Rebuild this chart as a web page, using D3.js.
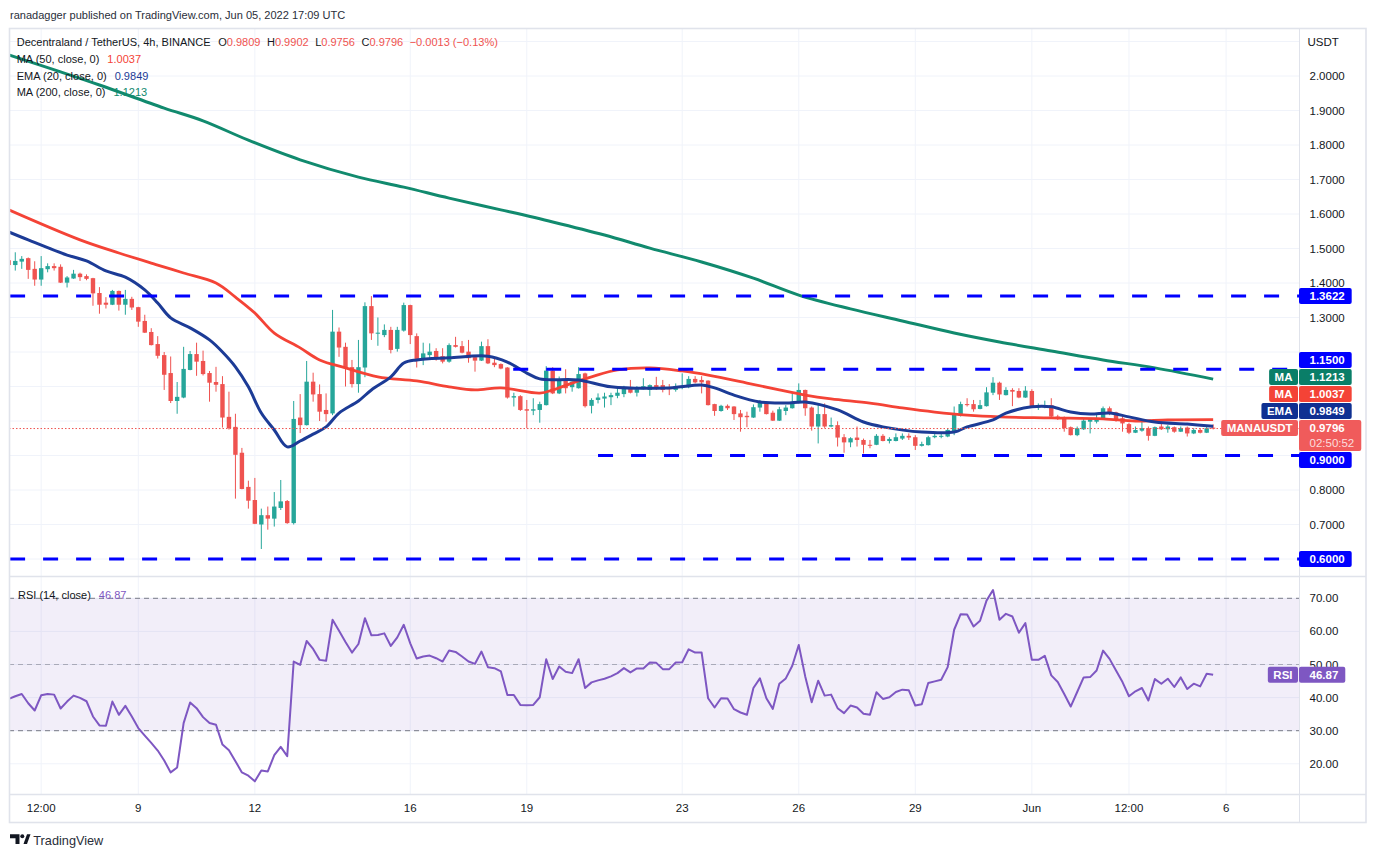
<!DOCTYPE html>
<html><head><meta charset="utf-8">
<script src="https://cdn.jsdelivr.net/npm/d3@7"></script>
<style>
html,body{margin:0;padding:0;background:#fff;}
svg{display:block;font-family:"Liberation Sans",Arial,sans-serif;}
</style></head><body>
<svg id="c" width="1377" height="857"></svg>
<script>
// ---------------- DATA ----------------
const firstCandle = "2022-05-05T16:00:00Z";   // 4h candles
const open = [1.466,1.452,1.462,1.472,1.441,1.410,1.440,1.449,1.447,1.401,
1.413,1.427,1.420,1.414,1.371,1.343,1.337,1.377,1.337,1.354,
1.330,1.290,1.258,1.223,1.191,1.139,1.058,1.068,1.148,1.194,
1.174,1.139,1.113,1.107,1.012,0.983,0.908,0.809,0.771,0.700,
0.727,0.717,0.748,0.768,0.704,1.010,0.988,1.114,1.078,1.032,
1.022,1.259,1.215,1.156,1.107,1.155,1.333,1.253,1.249,1.264,
1.209,1.262,1.336,1.246,1.177,1.191,1.203,1.188,1.172,1.220,
1.217,1.201,1.185,1.175,1.217,1.169,1.165,1.155,1.068,1.072,
1.034,1.030,1.032,1.046,1.146,1.080,1.121,1.098,1.095,1.138,
1.044,1.061,1.065,1.069,1.073,1.078,1.097,1.082,1.092,1.090,
1.104,1.104,1.097,1.090,1.097,1.098,1.122,1.119,1.117,1.049,
1.029,1.044,1.042,1.022,1.015,1.010,1.039,1.053,1.024,1.001,
1.029,1.037,1.053,1.090,1.039,0.984,1.020,0.984,0.988,0.953,
0.938,0.952,0.945,0.931,0.931,0.957,0.942,0.942,0.949,0.957,
0.953,0.928,0.930,0.953,0.955,0.955,0.966,1.015,1.049,1.049,
1.035,1.043,1.082,1.111,1.075,1.090,1.087,1.068,1.087,1.040,
1.040,1.046,1.013,1.008,0.982,0.959,0.976,0.998,0.998,1.005,
1.037,1.025,1.008,0.991,0.966,0.972,0.979,0.957,0.984,0.976,
0.982,0.969,0.981,0.964,0.974,0.966,0.9809];
const high = [1.475,1.489,1.478,1.474,1.463,1.478,1.457,1.457,1.454,1.420,
1.438,1.430,1.425,1.415,1.388,1.359,1.380,1.378,1.380,1.360,
1.331,1.308,1.269,1.246,1.200,1.187,1.113,1.215,1.203,1.227,
1.204,1.145,1.157,1.130,1.085,1.021,0.922,0.827,0.835,0.746,
0.752,0.794,0.829,0.771,1.058,1.078,1.174,1.140,1.106,1.080,
1.322,1.271,1.227,1.177,1.235,1.344,1.362,1.300,1.280,1.273,
1.273,1.343,1.337,1.254,1.227,1.225,1.211,1.211,1.225,1.244,
1.232,1.235,1.191,1.230,1.237,1.182,1.167,1.156,1.082,1.075,
1.061,1.066,1.056,1.159,1.156,1.129,1.150,1.115,1.156,1.140,
1.066,1.080,1.082,1.082,1.095,1.102,1.119,1.101,1.124,1.106,
1.128,1.119,1.107,1.109,1.138,1.130,1.130,1.130,1.118,1.050,
1.047,1.048,1.043,1.032,1.027,1.048,1.061,1.056,1.030,1.041,
1.046,1.082,1.109,1.091,1.042,1.051,1.051,1.010,0.999,0.962,
0.953,0.984,0.949,0.945,0.962,0.962,0.953,0.964,0.964,0.964,
0.959,0.940,0.957,0.964,0.964,0.979,1.042,1.056,1.066,1.061,
1.061,1.098,1.127,1.114,1.098,1.095,1.095,1.101,1.092,1.051,
1.059,1.066,1.018,1.013,0.984,0.984,1.008,1.008,1.018,1.042,
1.042,1.027,1.013,0.995,0.984,0.998,0.984,0.984,0.993,0.988,
0.984,0.984,0.984,0.979,0.979,0.984,0.9902];
const low = [1.445,1.436,1.441,1.412,1.392,1.392,1.431,1.436,1.400,1.387,
1.412,1.406,1.408,1.334,1.311,1.326,1.336,1.320,1.308,1.322,
1.273,1.255,1.219,1.181,1.090,1.052,1.021,1.066,1.147,1.131,
1.132,1.056,1.085,0.981,0.975,0.775,0.802,0.746,0.701,0.629,
0.685,0.694,0.742,0.702,0.700,0.965,0.987,1.056,1.000,0.998,
1.017,1.186,1.100,1.097,1.082,1.127,1.235,1.218,1.243,1.196,
1.201,1.259,1.223,1.155,1.162,1.177,1.175,1.167,1.169,1.213,
1.196,1.169,1.143,1.174,1.165,1.156,1.150,1.065,1.042,1.029,
0.979,1.017,0.995,1.045,1.078,1.078,1.080,1.085,1.094,1.039,
1.022,1.051,1.039,1.046,1.066,1.069,1.080,1.071,1.091,1.073,
1.090,1.083,1.075,1.085,1.092,1.095,1.109,1.080,1.045,1.015,
1.027,1.032,1.003,0.969,0.982,1.009,1.027,1.019,1.000,1.000,
1.017,1.036,1.051,1.015,0.972,0.935,0.980,0.982,0.926,0.908,
0.924,0.926,0.906,0.921,0.930,0.941,0.935,0.941,0.945,0.945,
0.916,0.926,0.929,0.950,0.950,0.953,0.959,1.013,1.042,1.027,
1.034,1.042,1.075,1.061,1.074,1.043,1.066,1.067,1.041,1.032,
1.037,1.008,1.003,0.969,0.958,0.956,0.974,0.964,0.993,1.003,
1.017,0.998,0.969,0.962,0.965,0.969,0.943,0.956,0.974,0.966,
0.966,0.968,0.955,0.962,0.964,0.965,0.9756];
const close = [1.452,1.464,1.470,1.438,1.410,1.443,1.449,1.443,1.401,1.416,
1.427,1.417,1.412,1.370,1.337,1.337,1.377,1.337,1.354,1.329,
1.288,1.256,1.220,1.189,1.134,1.058,1.070,1.151,1.194,1.172,
1.136,1.111,1.105,1.010,0.979,0.902,0.803,0.769,0.702,0.727,
0.717,0.752,0.767,0.704,1.006,0.988,1.114,1.077,1.027,1.020,
1.259,1.213,1.156,1.107,1.156,1.333,1.254,1.256,1.264,1.206,
1.264,1.336,1.249,1.177,1.196,1.201,1.184,1.172,1.220,1.215,
1.198,1.182,1.175,1.217,1.167,1.162,1.152,1.068,1.072,1.032,
1.030,1.034,1.049,1.146,1.080,1.119,1.095,1.114,1.136,1.043,
1.061,1.068,1.071,1.075,1.082,1.097,1.082,1.092,1.101,1.104,
1.097,1.090,1.092,1.100,1.101,1.122,1.112,1.112,1.046,1.029,
1.044,1.037,1.020,1.011,1.011,1.040,1.054,1.020,1.001,1.034,
1.039,1.054,1.090,1.037,0.984,1.020,0.984,0.988,0.952,0.938,
0.950,0.945,0.931,0.929,0.957,0.942,0.948,0.953,0.957,0.952,
0.928,0.933,0.953,0.957,0.957,0.974,1.020,1.049,1.046,1.034,
1.046,1.083,1.111,1.077,1.090,1.085,1.068,1.088,1.042,1.043,
1.046,1.013,1.008,0.979,0.959,0.979,1.001,1.005,1.008,1.037,
1.022,1.003,0.993,0.966,0.974,0.979,0.957,0.982,0.976,0.984,
0.969,0.979,0.964,0.974,0.966,0.979,0.9796];

// moving averages (candle index, value)
const ma200Idx = [0,8,14,24,30,37,45,54,61,68,76,84,92,99,107,115,122,130,138,146,153,161,169,177,186];
const ma200Val = [2.061,2.012,1.974,1.907,1.870,1.814,1.757,1.707,1.678,1.646,1.612,1.577,1.539,1.501,1.461,1.414,1.365,1.325,1.290,1.255,1.229,1.203,1.177,1.154,1.1213];
const ma50Idx = [0,11,17,23,27,32,35,38,41,45,48,52,57,63,68,72,76,82,84,87,90,94,99,104,108,114,119,123,127,133,138,143,148,153,161,169,174,179,186];
const ma50Val = [1.612,1.525,1.487,1.452,1.429,1.400,1.359,1.313,1.255,1.212,1.177,1.154,1.128,1.116,1.099,1.090,1.096,1.081,1.090,1.110,1.128,1.148,1.154,1.145,1.133,1.110,1.090,1.075,1.064,1.052,1.038,1.026,1.017,1.012,1.009,1.006,1.000,1.003,1.0037];
const emaIdx = [0,3,9,12,15,18,21,23,25,28,31,33,35,37,39,41,43,45,47,49,51,54,56,59,61,63,68,74,77,80,82,88,93,102,107,109,112,116,120,123,128,132,135,141,146,148,152,154,158,161,164,167,170,173,177,182,186];
const emaVal = [1.548,1.525,1.481,1.464,1.435,1.417,1.380,1.342,1.299,1.270,1.235,1.200,1.157,1.099,1.023,0.974,0.925,0.942,0.962,0.983,1.023,1.058,1.090,1.128,1.168,1.177,1.183,1.188,1.171,1.139,1.122,1.119,1.099,1.096,1.104,1.096,1.075,1.055,1.052,1.055,1.032,0.997,0.983,0.968,0.968,0.983,1.003,1.023,1.041,1.041,1.026,1.020,1.023,1.012,0.997,0.991,0.9849];

// RSI(14) per candle
const rsi = [39.6,40.4,41.1,38.3,36.1,40.7,41.1,40.9,36.7,38.8,
40.6,39.9,38.9,34.3,31.6,31.5,38.8,34.8,37.5,34.3,
30.8,28.5,26.3,24.0,21.0,17.4,18.9,32.3,38.5,36.8,
34.1,32.3,31.8,25.8,24.1,20.8,17.4,16.4,14.7,18.0,
17.7,22.6,25.1,22.3,50.9,49.9,57.1,54.7,51.4,51.1,
63.5,60.2,56.8,53.6,56.2,64.0,58.8,58.9,59.4,55.6,
58.2,62.0,56.4,51.8,52.4,52.7,51.9,50.9,54.2,53.8,
52.4,50.9,50.2,53.9,49.2,48.9,47.9,40.8,40.8,37.8,
37.7,37.8,40.1,51.6,45.6,49.4,47.8,47.4,51.6,42.9,
44.6,45.2,45.7,46.4,47.4,48.9,47.6,48.8,48.8,50.6,
50.5,48.6,48.6,50.6,50.7,54.6,53.6,53.6,39.8,37.0,
39.8,39.7,36.5,35.5,34.8,42.9,45.8,39.8,36.6,44.2,
45.8,49.6,55.9,46.4,38.6,45.1,40.6,40.9,36.8,35.3,
37.6,37.0,35.1,34.8,41.6,39.6,40.1,41.7,42.4,42.2,
37.6,38.0,44.4,44.9,45.4,49.2,60.5,65.2,65.1,61.5,
63.2,69.3,72.5,63.5,65.3,64.5,59.6,62.5,51.4,51.4,
52.6,46.7,44.7,41.1,37.3,41.7,46.1,46.2,48.2,54.2,
51.7,48.2,44.7,40.4,41.9,42.9,39.1,45.6,44.2,45.7,
43.2,46.1,42.6,44.2,43.4,47.2,46.87];

// horizontal support/resistance levels (price, starting candle index)
const levelPrice = [1.3622, 1.15, 0.90, 0.60];
const levelStart = [0.2, 77.9, 91, 0.2];

const priceTicks = [0.6,0.7,0.8,0.9,1.0,1.1,1.2,1.3,1.4,1.5,1.6,1.7,1.8,1.9,2.0];
const rsiTicks = [20,30,40,50,60,70];
const timeTickDates = ["2022-05-06T12:00:00Z","2022-05-09T00:00:00Z","2022-05-12T00:00:00Z","2022-05-16T00:00:00Z","2022-05-19T00:00:00Z","2022-05-23T00:00:00Z","2022-05-26T00:00:00Z","2022-05-29T00:00:00Z","2022-06-01T00:00:00Z","2022-06-03T12:00:00Z","2022-06-06T00:00:00Z"];
const timeTickLabels = ["12:00","9","12","16","19","23","26","29","Jun","12:00","6"];

const countdown = "02:50:52";
const symbol = "MANAUSDT";

// ---------------- LAYOUT ----------------
const W=1377, H=857;
const PL=9, PR=1299, AR=1366;
const PT=28, PB=576, RT=577, RB=794, TB=822;
const UP="#26a69a", DN="#ef5350";
const C_MA50="#f44336", C_EMA="#1c3b96", C_MA200="#118a6e", C_MA200BOX="#0a7e68";
const C_LVL="#0000ff", C_RSI="#7e57c2", C_TXT="#131722", GRID="#f0f3fa", BORDER="#e0e3eb";

const svg=d3.select("#c");
svg.append("rect").attr("width",W).attr("height",H).attr("fill","#fff");

const t0=new Date(firstCandle).getTime(), H4=4*3600e3;
const tAt=i=>new Date(t0+i*H4);
const x=d3.scaleUtc().domain([new Date("2022-05-09T00:00:00Z"),new Date("2022-06-06T00:00:00Z")]).range([138.3,1226.1]);
const xi=i=>x(tAt(i));
const y=d3.scaleLinear().domain([0.6,2.0]).range([559,76]);
const yr=d3.scaleLinear().domain([20,70]).range([763.8,598.3]);

const defs=svg.append("defs");
defs.append("clipPath").attr("id","cp").append("rect").attr("x",PL).attr("y",PT).attr("width",PR-PL).attr("height",PB-PT);
defs.append("clipPath").attr("id","cr").append("rect").attr("x",PL).attr("y",RT).attr("width",PR-PL).attr("height",RB-RT);

// grid
const grid=svg.append("g");
grid.selectAll(".hg").data(priceTicks.concat([2.1])).join("line")
  .attr("x1",PL).attr("x2",PR).attr("y1",d=>y(d)).attr("y2",d=>y(d)).attr("stroke",GRID);
grid.selectAll(".hr").data(rsiTicks).join("line")
  .attr("x1",PL).attr("x2",PR).attr("y1",d=>yr(d)).attr("y2",d=>yr(d)).attr("stroke",GRID);
grid.selectAll(".vg").data(timeTickDates).join("line")
  .attr("x1",d=>x(new Date(d))).attr("x2",d=>x(new Date(d))).attr("y1",PT).attr("y2",RB).attr("stroke",GRID);

// price pane
const pp=svg.append("g").attr("clip-path","url(#cp)");
const idx=d3.range(open.length);
const step=xi(1)-xi(0), bw=step*0.68;
pp.selectAll(".wk").data(idx).join("line")
  .attr("x1",i=>xi(i)).attr("x2",i=>xi(i)).attr("y1",i=>y(high[i])).attr("y2",i=>y(low[i]))
  .attr("stroke",i=>close[i]>=open[i]?UP:DN).attr("stroke-width",1);
pp.selectAll(".bd").data(idx).join("rect")
  .attr("x",i=>xi(i)-bw/2).attr("width",bw)
  .attr("y",i=>y(Math.max(open[i],close[i])))
  .attr("height",i=>Math.max(1,Math.abs(y(open[i])-y(close[i]))))
  .attr("fill",i=>close[i]>=open[i]?UP:DN);

const lineGen=(ix,vals)=>d3.line().curve(d3.curveCatmullRom.alpha(0.5)).x((d,k)=>xi(ix[k])).y(d=>y(d))(vals);
pp.append("path").attr("d",lineGen(ma200Idx,ma200Val)).attr("fill","none").attr("stroke",C_MA200).attr("stroke-width",3);
pp.append("path").attr("d",lineGen(ma50Idx,ma50Val)).attr("fill","none").attr("stroke",C_MA50).attr("stroke-width",2.8);
pp.append("path").attr("d",lineGen(emaIdx,emaVal)).attr("fill","none").attr("stroke",C_EMA).attr("stroke-width",3);

// level lines
levelPrice.forEach((p,k)=>{
  pp.append("line").attr("x1",xi(levelStart[k])).attr("x2",PR).attr("y1",y(p)).attr("y2",y(p))
    .attr("stroke",C_LVL).attr("stroke-width",3).attr("stroke-dasharray","15,18");
});
// current price dotted line
const last=close[close.length-1];
pp.append("line").attr("x1",PL).attr("x2",PR).attr("y1",y(last)+0.5).attr("y2",y(last)+0.5)
  .attr("stroke",DN).attr("stroke-width",1).attr("stroke-dasharray","1.5,2");

// RSI pane
const rp=svg.append("g").attr("clip-path","url(#cr)");
rp.append("rect").attr("x",PL).attr("width",PR-PL).attr("y",yr(70)).attr("height",yr(30)-yr(70)).attr("fill","rgba(126,87,194,0.1)");
[70,50,30].forEach(v=>{
  rp.append("line").attr("x1",PL).attr("x2",PR).attr("y1",yr(v)).attr("y2",yr(v))
    .attr("stroke","#787b86").attr("stroke-dasharray","5,4").attr("stroke-opacity",v===50?0.55:1);
});
rp.append("path").attr("d",d3.line().x((d,i)=>xi(i)).y(d=>yr(d))(rsi))
  .attr("fill","none").attr("stroke",C_RSI).attr("stroke-width",2).attr("stroke-linejoin","round");

// frame
const fr=svg.append("g").attr("stroke",BORDER).attr("fill","none");
fr.append("rect").attr("x",9.5).attr("y",PT+0.5).attr("width",AR-9.5).attr("height",TB-PT).attr("stroke-width",1.6);
fr.append("line").attr("x1",PR+0.5).attr("x2",PR+0.5).attr("y1",PT).attr("y2",TB);
fr.append("line").attr("x1",PL).attr("x2",AR).attr("y1",PB+0.5).attr("y2",PB+0.5).attr("stroke-width",1.5);
fr.append("line").attr("x1",PL).attr("x2",AR).attr("y1",RB+0.5).attr("y2",RB+0.5).attr("stroke-width",1.5);

// right-side value labels with collision stacking
const lastMA200=ma200Val[ma200Val.length-1], lastMA50=ma50Val[ma50Val.length-1], lastEMA=emaVal[emaVal.length-1];
const f4=d3.format(".4f");
const labels=[
 {p:levelPrice[0],t:f4(levelPrice[0]),fill:C_LVL},
 {p:levelPrice[1],t:f4(levelPrice[1]),fill:C_LVL},
 {p:lastMA200,t:f4(lastMA200),fill:C_MA200BOX,tag:"MA"},
 {p:lastMA50,t:f4(lastMA50),fill:C_MA50,tag:"MA"},
 {p:lastEMA,t:f4(lastEMA),fill:"#0f3092",tag:"EMA"},
 {p:last,t:f4(last),t2:countdown,fill:"#f05b5b",tag:symbol,main:true},
 {p:levelPrice[2],t:f4(levelPrice[2]),fill:C_LVL},
 {p:levelPrice[3],t:f4(levelPrice[3]),fill:C_LVL}
];
const BH=16;
const mainL=labels.find(d=>d.main);
mainL.top=y(mainL.p)-8; mainL.h=31;
let lim=mainL.top-1;
labels.filter(d=>d.p>mainL.p).sort((a,b)=>a.p-b.p).forEach(d=>{d.h=BH;d.top=Math.min(y(d.p)-8,lim-BH);lim=d.top-1;});
lim=mainL.top+mainL.h+1;
labels.filter(d=>d.p<mainL.p).sort((a,b)=>b.p-a.p).forEach(d=>{d.h=BH;d.top=Math.max(y(d.p)-8,lim);lim=d.top+BH+1;});
const rsiLast=rsi[rsi.length-1];
const rsiLabel={p:rsiLast,t:d3.format(".2f")(rsiLast),fill:C_RSI,tag:"RSI",top:yr(rsiLast)-8,h:BH};

// axis tick labels hidden where a value box covers them
const covered=(c,boxes)=>boxes.some(b=>Math.min(c+5,b.top+b.h)-Math.max(c-5,b.top)>3);
const ax=svg.append("g").attr("font-size","11.5px").attr("fill",C_TXT);
ax.selectAll(".pl").data(priceTicks.filter(d=>!covered(y(d),labels))).join("text")
  .attr("x",1309.5).attr("y",d=>y(d)).attr("dy","0.35em").text(d=>f4(d));
ax.append("text").attr("x",1307.5).attr("y",y(2.1)).attr("dy","0.35em").text("USDT");
ax.selectAll(".rl").data(rsiTicks.filter(d=>!covered(yr(d),[rsiLabel]))).join("text")
  .attr("x",1309.5).attr("y",d=>yr(d)).attr("dy","0.35em").text(d=>d3.format(".2f")(d));
ax.selectAll(".tl").data(timeTickDates).join("text").attr("x",d=>x(new Date(d))).attr("y",807.7).attr("dy","0.35em")
  .attr("text-anchor","middle").text((d,i)=>timeTickLabels[i]);

const lg=svg.append("g").attr("font-size","11.5px").attr("font-weight","bold");
function drawLabel(d){
  const g=lg.append("g");
  const rect=g.append("rect").attr("x",PR).attr("y",d.top).attr("height",d.h).attr("rx",2).attr("fill",d.fill);
  const t1=g.append("text").attr("x",1309.5).attr("y",d.top+8).attr("dy","0.35em").attr("fill","#fff").text(d.t);
  let w=t1.node().getComputedTextLength();
  if(d.t2){
    const t2=g.append("text").attr("x",1309.5).attr("y",d.top+23).attr("dy","0.35em").attr("fill","#fff").attr("fill-opacity",0.8).attr("font-weight","normal").text(d.t2);
    w=Math.max(w,t2.node().getComputedTextLength());
  }
  rect.attr("width",1309.5-PR+w+7);
  if(d.tag){
    const tt=g.append("text").attr("y",d.top+8).attr("dy","0.35em").attr("fill","#fff").attr("text-anchor","middle").text(d.tag);
    const tw=tt.node().getComputedTextLength()+11;
    g.insert("rect","text").attr("x",PR-1-tw).attr("y",d.top).attr("width",tw).attr("height",BH).attr("rx",2).attr("fill",d.fill);
    tt.attr("x",PR-1-tw/2);
  }
}
labels.forEach(drawLabel);
drawLabel(rsiLabel);

// fit helper
function fit(sel,target){
  const w=sel.node().getComputedTextLength();
  const fs=parseFloat(sel.attr("font-size"));
  sel.attr("font-size",(fs*target/w).toFixed(2)+"px");
  return fs*target/w;
}

// header
const hdr=svg.append("text").attr("x",10).attr("y",19).attr("font-size","12px").attr("fill","#2a2e39")
  .text("ranadagger published on TradingView.com, Jun 05, 2022 17:09 UTC");
fit(hdr,335.5);

// legend
const leg=svg.append("g").attr("fill",C_TXT);
const probe=leg.append("text").attr("x",16.7).attr("y",46.3).attr("font-size","12px").text("Decentraland / TetherUS, 4h, BINANCE");
const LFS=fit(probe,194);
function row(xs,yb,parts){
  let cx=xs;
  parts.forEach(pt=>{
    cx+=pt.gap||0;
    const t=leg.append("text").attr("x",cx).attr("y",yb).attr("font-size",LFS+"px").attr("fill",pt.c||C_TXT).text(pt.s);
    cx+=t.node().getComputedTextLength();
  });
}
const O=open[open.length-1],Hh=high[high.length-1],Ll=low[low.length-1],Cc=close[close.length-1];
row(16.7+probe.node().getComputedTextLength(),46.3,[
  {s:"O",gap:7.6},{s:f4(O),c:DN},
  {s:"H",gap:6.5},{s:f4(Hh),c:DN},
  {s:"L",gap:6.5},{s:f4(Ll),c:DN},
  {s:"C",gap:6.5},{s:f4(Cc),c:DN},
  {s:"\u22120.0013 (\u22120.13%)",gap:6.5,c:DN}
]);
row(16.7,63.3,[{s:"MA (50, close, 0)"},{s:f4(lastMA50),gap:8,c:C_MA50}]);
row(16.7,80,[{s:"EMA (20, close, 0)"},{s:f4(lastEMA),gap:8,c:C_EMA}]);
row(16.7,95.7,[{s:"MA (200, close, 0)"},{s:f4(lastMA200),gap:8,c:C_MA200}]);
row(18,598.5,[{s:"RSI (14, close)"},{s:d3.format(".2f")(rsiLast),gap:8,c:C_RSI}]);

// TradingView logo
const logo=svg.append("g").attr("fill","#131722");
logo.append("path").attr("d","M10,834.3 H19.5 V844 H15.5 V838.3 H10 Z");
logo.append("circle").attr("cx",22.3).attr("cy",836.3).attr("r",2);
logo.append("path").attr("d","M23.5,844 L27,834.3 H30.5 L27,844 Z");
const tvt=logo.append("text").attr("x",33.3).attr("y",845).attr("font-size","14px").attr("fill","#2a2e39").text("TradingView");
fit(tvt,70);
</script>
</body></html>
